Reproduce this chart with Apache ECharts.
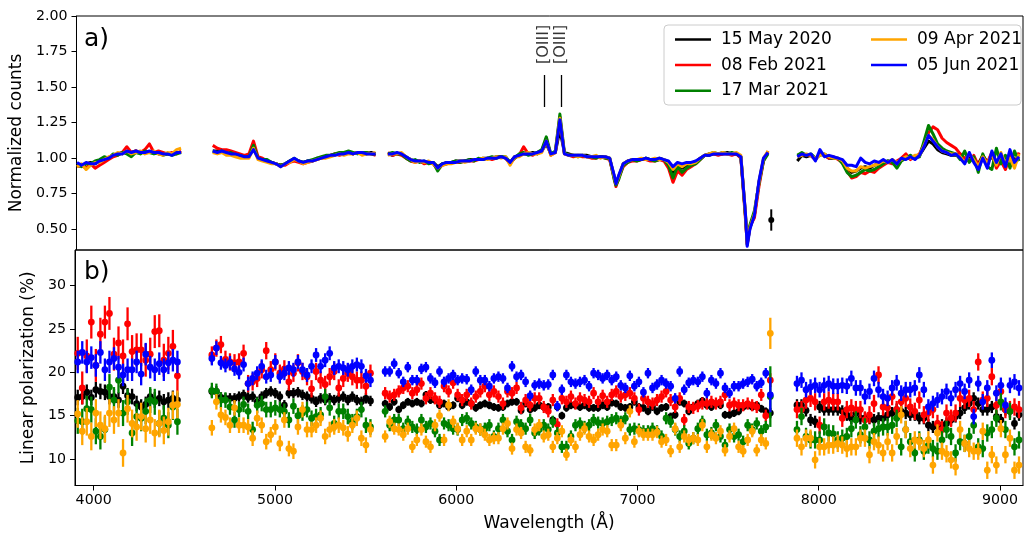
<!DOCTYPE html>
<html><head><meta charset="utf-8">
<script src="https://cdn.jsdelivr.net/npm/echarts@6/dist/echarts.min.js"></script>
<style>html,body{margin:0;padding:0;background:#fff}#c{width:1025px;height:537px}</style>
</head><body><div id="c"></div>
<script>
// ---------- names / colours ----------
const seriesNames = ['15 May 2020','08 Feb 2021','17 Mar 2021','09 Apr 2021','05 Jun 2021'];
const seriesColors = ['#000000','#ff0000','#008000','#ffa500','#0000ff'];

// ---------- tick labels ----------
const xTicks = [4000,5000,6000,7000,8000,9000];
const yTicksTop = [0.5,0.75,1.0,1.25,1.5,1.75,2.0];
const yTicksBot = [10,15,20,25,30];

// ---------- panel a) wavelengths (Å) ----------
function steps(start, step, n){const a=[];for(let i=0;i<n;i++)a.push(start+i*step);return a;}
const specWl1 = steps(3900,25,24);
const specWl2 = steps(4650,25,37);
const specWl3 = [5618,5643,5668,5693,5718,5743,5768,5793,5818,5843,
 5868,5893,5918,5943,5968,5993,6018,6043,6068,6093,
 6118,6143,6168,6193,6218,6243,6268,6293,6318,6343,
 6368,6393,6418,6443,6468,6493,6518,6543,6568,6593,
 6618,6643,6668,6693,6718,6743,6768,6793,6818,6843,
 6868,6878,6893,6918,6943,6968,6993,7018,7043,7068,
 7093,7118,7143,7168,7193,7218,7243,7268,7293,7318,
 7343,7368,7393,7418,7443,7468,7493,7518,7543,7568,
 7593,7603,7618,7643,7668,7693,7718];
const specWl4 = steps(7880,25,50);

// ---------- panel a) normalized counts ----------
const specBlack = [
 [0.96,0.95,0.96,0.97,0.96,0.98,1.00,1.00,1.02,1.03,1.04,1.04,1.04,1.05,1.04,1.04,1.04,1.04,1.03,1.03,1.03,1.03,1.04,1.04],
 [1.05,1.05,1.04,1.04,1.03,1.03,1.02,1.01,1.02,1.08,1.00,0.99,0.98,0.97,0.96,0.95,0.96,0.98,0.99,0.98,0.97,0.98,0.98,1.00,1.00,1.01,1.02,1.03,1.03,1.04,1.04,1.03,1.04,1.03,1.03,1.04,1.03],
 [1.03,1.02,1.03,1.03,1.01,0.99,0.98,0.98,0.97,0.97,
  0.97,0.94,0.96,0.97,0.97,0.98,0.98,0.98,0.99,0.99,
  0.99,1.00,1.00,1.00,1.01,1.01,1.00,0.97,1.01,1.02,
  1.03,1.03,1.04,1.03,1.05,1.10,1.03,1.04,1.20,1.04,
  1.03,1.02,1.02,1.02,1.02,1.01,1.01,1.01,1.01,1.00,
  0.87,0.82,0.87,0.96,0.98,0.99,0.99,0.99,1.00,0.99,
  0.99,1.00,0.99,0.97,0.90,0.95,0.93,0.95,0.96,0.97,
  1.00,1.02,1.02,1.03,1.03,1.03,1.04,1.03,1.03,1.01,
  0.61,0.39,0.51,0.60,0.83,0.99,1.04],
 [0.98,1.02,1.01,1.02,0.99,1.03,1.02,1.00,1.00,1.00,0.97,0.93,0.90,0.91,0.93,0.94,0.93,0.95,0.96,0.97,0.98,0.97,0.97,0.99,1.00,1.00,1.01,1.02,1.07,1.12,1.10,1.06,1.04,1.03,1.02,1.02,1.03,0.98,1.01,0.99,0.96,1.02,0.97,1.01,0.98,1.00,0.95,1.03,0.99,1.00]
];
const specRed = [
 [0.94,0.95,0.93,0.96,0.93,0.95,0.97,0.99,1.01,1.02,1.04,1.08,1.04,1.05,1.04,1.06,1.10,1.04,1.05,1.04,1.03,1.04,1.03,1.05],
 [1.09,1.07,1.06,1.06,1.05,1.04,1.03,1.02,1.03,1.12,1.01,1.00,0.98,0.97,0.96,0.95,0.95,0.97,0.98,0.97,0.96,0.97,0.98,0.99,1.00,1.01,1.02,1.03,1.02,1.03,1.04,1.03,1.04,1.03,1.04,1.03,1.02],
 [1.04,1.02,1.03,1.02,1.00,0.98,0.97,0.98,0.96,0.97,
  0.96,0.92,0.95,0.96,0.97,0.97,0.97,0.98,0.98,0.98,
  0.99,0.99,1.00,0.99,1.00,1.01,1.00,0.96,1.00,1.02,
  1.08,1.03,1.02,1.04,1.05,1.14,1.02,1.04,1.29,1.03,
  1.02,1.01,1.02,1.01,1.01,1.00,1.00,1.01,1.00,0.99,
  0.86,0.80,0.86,0.94,0.97,0.98,0.98,0.99,0.99,0.98,
  0.98,0.99,0.98,0.93,0.83,0.91,0.88,0.92,0.94,0.96,
  0.99,1.02,1.03,1.03,1.02,1.03,1.03,1.02,1.03,1.00,
  0.58,0.40,0.52,0.58,0.80,0.98,1.05],
 [1.02,1.03,1.02,1.02,0.99,1.03,1.02,1.00,1.01,0.99,0.97,0.91,0.86,0.87,0.90,0.89,0.91,0.90,0.93,0.95,0.97,0.96,0.98,1.00,1.03,0.99,1.01,1.03,1.10,1.18,1.22,1.20,1.14,1.11,1.09,1.07,1.03,1.00,0.98,1.02,0.95,1.01,0.97,1.04,0.93,0.98,0.92,1.02,0.95,1.04]
];
const specGreen = [
 [0.95,0.94,0.96,0.96,0.98,0.99,1.01,1.00,1.03,1.02,1.04,1.03,1.01,1.04,1.03,1.05,1.04,1.03,1.04,1.02,1.03,1.02,1.03,1.04],
 [1.05,1.04,1.05,1.03,1.04,1.02,1.02,1.01,1.01,1.09,1.00,0.99,0.99,0.97,0.96,0.95,0.96,0.98,1.00,0.98,0.97,0.98,0.99,1.00,1.01,1.02,1.02,1.03,1.04,1.04,1.05,1.04,1.03,1.04,1.04,1.03,1.03],
 [1.03,1.04,1.03,1.03,1.00,0.98,0.99,0.97,0.98,0.96,
  0.97,0.91,0.96,0.96,0.97,0.98,0.97,0.98,0.99,0.98,
  1.00,0.99,1.00,1.01,1.00,1.01,1.01,0.97,1.00,1.03,
  1.04,1.02,1.03,1.04,1.06,1.15,1.03,1.05,1.31,1.04,
  1.02,1.02,1.01,1.02,1.01,1.01,1.00,1.01,1.00,1.00,
  0.85,0.81,0.85,0.95,0.97,0.99,0.98,0.99,1.00,0.99,
  0.98,0.99,0.99,0.95,0.86,0.94,0.90,0.93,0.95,0.96,
  0.99,1.02,1.03,1.04,1.03,1.04,1.03,1.04,1.03,1.01,
  0.60,0.42,0.53,0.63,0.82,0.98,1.03],
 [1.02,1.04,1.02,1.03,1.00,1.02,1.03,1.01,1.00,1.00,0.96,0.90,0.87,0.88,0.90,0.92,0.91,0.92,0.94,0.96,0.98,0.97,0.93,0.98,1.00,1.02,1.00,1.01,1.12,1.23,1.17,1.10,1.07,1.05,1.04,1.03,0.99,1.05,0.97,1.01,0.90,1.03,0.94,0.92,1.07,0.96,1.02,0.93,1.05,0.98]
];
const specOrange = [
 [0.94,0.96,0.92,0.95,0.97,0.97,0.99,1.01,1.02,1.04,1.03,1.05,1.03,1.04,1.05,1.03,1.04,1.05,1.03,1.02,1.04,1.03,1.06,1.07],
 [1.04,1.03,1.04,1.02,1.02,1.01,1.00,1.00,1.00,1.07,0.99,0.98,0.97,0.96,0.96,0.94,0.96,0.97,0.99,0.98,0.96,0.97,0.98,0.99,1.00,1.00,1.01,1.02,1.03,1.02,1.03,1.03,1.04,1.02,1.03,1.03,1.04],
 [1.02,1.03,1.03,1.04,1.01,0.99,0.97,0.98,0.97,0.98,
  0.96,0.93,0.95,0.96,0.96,0.97,0.98,0.97,0.98,0.99,
  0.99,1.00,0.99,1.00,1.01,1.00,1.01,0.95,1.01,1.01,
  1.03,1.04,1.03,1.03,1.04,1.12,1.02,1.04,1.28,1.03,
  1.02,1.02,1.01,1.02,1.01,1.01,1.02,1.00,1.01,1.00,
  0.87,0.82,0.87,0.96,0.98,0.99,0.99,1.00,0.99,0.99,
  1.00,0.99,0.99,0.97,0.92,0.96,0.94,0.96,0.96,0.97,
  1.00,1.02,1.03,1.04,1.03,1.04,1.03,1.03,1.04,1.02,
  0.62,0.40,0.51,0.61,0.83,1.00,1.05],
 [1.01,1.02,1.03,1.02,1.00,1.02,1.03,1.01,1.00,1.00,0.98,0.93,0.91,0.91,0.94,0.93,0.94,0.95,0.96,0.98,0.97,0.99,0.97,0.99,1.01,1.00,1.02,1.02,1.09,1.16,1.13,1.08,1.05,1.04,1.03,1.03,1.01,0.97,1.03,0.99,0.94,1.01,0.96,1.03,0.95,1.04,0.96,1.00,0.93,1.03]
];
const specBlue = [
 [0.97,0.95,0.97,0.96,0.96,0.98,0.99,1.00,1.02,1.03,1.03,1.05,1.04,1.05,1.04,1.04,1.05,1.04,1.04,1.03,1.03,1.02,1.04,1.04],
 [1.05,1.04,1.05,1.04,1.03,1.03,1.02,1.01,1.01,1.06,1.00,0.99,0.98,0.97,0.96,0.94,0.96,0.98,1.00,0.98,0.97,0.98,0.98,0.99,1.00,1.01,1.02,1.02,1.03,1.03,1.04,1.03,1.04,1.04,1.03,1.03,1.03],
 [1.03,1.03,1.04,1.03,1.01,0.99,0.98,0.98,0.98,0.97,
  0.97,0.93,0.96,0.97,0.97,0.97,0.98,0.98,0.98,0.99,
  0.99,0.99,1.00,1.00,1.00,1.01,1.00,0.97,1.01,1.02,
  1.03,1.03,1.03,1.04,1.05,1.12,1.03,1.04,1.27,1.03,
  1.02,1.02,1.02,1.02,1.01,1.01,1.01,1.01,1.01,1.00,
  0.88,0.82,0.88,0.96,0.98,0.99,0.99,0.99,1.00,0.99,
  0.99,1.00,0.99,0.98,0.94,0.97,0.96,0.97,0.97,0.98,
  1.00,1.02,1.02,1.03,1.03,1.03,1.03,1.03,1.03,1.01,
  0.62,0.38,0.50,0.60,0.84,1.00,1.04],
 [1.01,1.03,1.02,1.03,0.98,1.06,1.01,1.02,1.01,1.00,0.99,0.95,0.95,0.94,1.00,0.97,0.96,0.98,0.97,0.99,0.97,0.99,0.96,1.00,0.99,1.01,0.99,1.02,1.08,1.16,1.12,1.08,1.05,1.04,1.02,1.03,1.00,0.96,1.04,0.97,0.92,1.00,0.93,1.05,0.97,1.03,0.94,1.06,0.97,1.01]
];
// single measured point with error bar in panel a)
const specPointWl = [7736];
const specPointVal = [0.565];
const specPointErr = [0.075];

// annotation markers in panel a)
const annWl = [6481, 6574];
const annText = ['[OIII]', '[OIII]'];
const annTextY = 1.80;
const annLineLo = 1.36, annLineHi = 1.585;

// ---------- panel b) wavelengths (start, step, count per segment) ----------
const polWl = [steps(3912,25,23), steps(4652,25,36), steps(5608,25,86), steps(7880,25,50)];

// ---------- panel b) linear polarization (%) ----------
const polBlack = [
 [17.1,17.2,17.7,17.1,18.0,17.8,17.7,17.2,17.2,16.8,18.4,17.3,17.2,16.4,16.0,16.3,17.2,16.8,17.0,16.6,16.8,17.0,16.8],
 [17.8,17.8,17.1,17.0,17.0,17.0,17.2,17.4,17.1,17.2,16.6,17.2,17.6,17.8,17.6,17.2,16.2,17.6,17.6,17.7,17.4,17.2,17.0,16.6,17.0,16.8,17.0,16.8,17.0,17.2,16.8,17.2,16.8,16.6,17.0,16.7],
 [16.4,16.0,16.6,15.7,16.2,16.6,16.4,16.6,16.4,17.4,16.8,16.8,16.2,16.4,16.0,16.2,17.0,16.2,16.6,16.4,15.9,16.2,16.4,16.2,16.0,15.9,16.0,16.4,16.6,16.6,15.6,16.4,15.7,15.9,16.2,16.0,16.0,14.5,16.0,15.0,15.9,16.2,16.2,16.0,16.2,15.9,
  15.9,15.9,16.2,16.0,16.5,16.4,16.0,15.9,16.0,16.6,16.0,15.9,15.5,16.0,15.5,15.9,16.0,14.9,15.1,16.6,16.4,15.5,16.0,16.4,16.7,16.2,16.0,16.4,16.2,15.1,15.1,15.3,15.5,16.0,16.2,16.0,16.2,15.8,15.5,15.3],
 [16.2,16.2,15.6,14.5,14.3,16.0,15.7,15.7,15.7,15.7,15.5,15.1,14.7,15.3,14.7,14.7,14.7,14.5,14.7,14.7,15.1,15.3,15.7,15.5,15.3,15.1,15.1,14.7,14.7,13.9,13.7,13.8,13.9,14.1,14.5,14.9,15.3,15.9,16.4,17.0,16.4,15.7,15.7,16.0,14.9,14.5,15.7,15.5,14.1,15.1]
];
const polRed = [
 [22.2,18.2,21.9,25.8,20.8,24.4,25.8,26.8,22.1,23.4,21.9,25.6,22.4,22.6,22.6,21.4,22.1,24.7,24.8,21.4,22.2,23.0,19.6],
 [22.0,22.8,23.2,21.5,21.2,21.1,21.2,22.2,18.7,18.9,19.3,20.3,22.5,20.3,21.2,19.9,20.4,18.9,19.9,21.1,20.1,19.5,18.1,20.1,19.1,18.6,19.5,20.1,18.2,19.3,19.9,19.5,19.1,19.1,18.4,19.9],
 [17.6,17.2,17.4,17.8,18.2,18.4,17.6,18.0,18.7,17.0,17.6,17.0,16.6,18.4,17.8,18.8,17.4,16.8,17.4,16.4,17.2,17.8,18.4,17.4,17.8,17.2,16.4,17.8,17.6,18.2,15.9,16.8,16.2,17.0,17.0,16.0,15.5,16.8,14.0,17.0,16.6,17.2,16.4,17.0,16.8,16.6,
  17.6,16.6,17.3,16.6,17.4,17.8,17.2,17.4,17.6,17.0,15.7,17.0,16.6,16.4,16.8,17.2,17.8,16.8,16.0,17.0,14.5,16.0,15.9,16.1,16.4,16.4,16.6,16.4,16.6,17.4,16.2,16.4,16.2,16.2,16.4,16.2,16.0,17.4,15.0,19.1],
 [15.7,15.7,16.8,17.0,16.6,13.9,16.6,16.8,16.6,16.6,14.7,15.7,15.9,15.7,15.7,14.5,15.1,16.4,19.7,16.0,15.9,17.2,15.7,16.6,17.0,16.0,15.5,16.8,15.1,15.3,15.7,14.1,13.4,15.3,14.7,15.3,17.0,16.8,17.0,15.7,21.2,16.8,17.0,19.5,16.2,17.8,15.7,15.7,16.0,15.7]
];
const polGreen = [
 [14.4,14.3,15.8,15.7,13.2,12.6,13.4,18.3,16.8,19.1,15.3,16.6,13.0,14.9,14.7,15.5,16.8,16.6,14.1,14.7,13.9,16.0,14.3],
 [17.9,17.8,16.8,16.8,16.0,14.5,15.7,16.3,15.5,13.4,16.2,16.4,15.7,15.7,15.9,15.7,15.5,14.5,16.1,15.0,15.3,15.7,14.7,14.9,15.1,17.2,15.9,14.1,15.5,15.5,14.9,14.3,14.9,15.7,13.9,13.7],
 [15.5,13.9,14.5,14.5,13.5,14.3,13.7,13.4,14.5,13.7,14.1,13.2,12.2,14.1,13.9,13.5,13.4,14.5,14.7,14.1,13.7,13.4,13.5,13.9,12.6,13.5,14.5,13.2,12.2,14.3,13.9,13.5,14.5,13.0,13.4,13.9,13.4,14.3,13.0,11.4,11.4,12.6,13.9,14.1,13.7,13.9,
  14.5,14.2,14.1,14.3,14.5,14.7,14.3,14.7,13.4,13.5,13.4,13.2,13.2,13.5,13.2,12.6,14.7,14.3,13.4,12.6,13.2,11.8,12.4,13.5,14.3,12.8,13.0,13.9,12.6,11.6,13.4,12.6,12.8,12.0,13.9,13.4,14.1,13.2,13.7,17.2],
 [13.4,14.9,12.6,12.2,12.2,12.2,13.7,13.0,12.9,12.2,12.4,12.6,13.5,14.5,12.8,13.7,12.2,13.2,13.5,13.7,13.7,13.9,14.7,11.4,13.4,12.0,10.7,12.2,10.9,11.6,11.2,10.9,12.2,13.4,12.6,10.7,12.0,11.8,12.6,13.9,11.4,11.2,13.0,13.4,14.7,16.6,13.4,15.5,11.4,12.2]
];
const polOrange = [
 [15.2,13.2,14.3,12.6,15.3,13.9,13.5,15.3,14.5,15.3,10.7,15.8,14.1,13.7,14.9,13.5,14.5,13.0,14.1,13.3,14.3,16.2,16.3],
 [13.6,16.6,15.1,14.8,13.9,15.9,13.9,13.9,13.7,12.4,14.7,13.9,12.0,12.8,13.7,11.8,14.5,11.2,10.9,13.7,15.7,13.4,13.4,13.9,14.7,12.6,13.4,13.7,13.9,13.6,12.9,13.9,14.7,12.4,11.6,13.4],
 [12.6,14.3,13.5,13.4,12.8,13.5,11.4,12.2,13.4,12.0,11.4,13.9,15.0,12.2,16.2,14.3,13.5,12.2,13.2,12.2,13.5,13.4,12.8,12.2,12.4,12.4,13.5,14.1,11.2,13.4,13.0,11.4,11.0,13.4,13.9,12.6,12.8,11.4,12.4,13.2,10.5,12.2,11.4,12.8,13.5,12.6,
  12.2,12.8,13.4,13.2,11.6,11.6,13.9,12.4,15.5,12.0,13.2,12.8,12.8,12.8,13.1,12.0,12.2,10.9,13.5,11.4,12.6,12.2,12.4,12.2,13.9,11.4,12.8,12.4,13.2,11.0,12.6,13.5,11.4,10.9,12.2,13.2,11.0,12.2,11.8,24.5],
 [12.4,11.4,12.4,12.4,9.9,11.4,11.4,11.6,11.6,11.8,11.6,11.2,11.4,11.4,12.4,12.4,10.5,12.0,11.6,10.7,12.0,10.7,12.6,15.1,13.4,11.2,12.2,12.0,11.2,12.2,9.3,13.0,10.9,10.6,9.9,9.1,13.4,11.8,11.2,10.9,10.9,13.2,8.7,10.5,9.3,13.5,10.5,12.4,8.7,9.3]
];
const polBlue = [
 [21.2,22.3,21.2,21.7,20.8,22.3,20.3,21.2,21.6,20.6,19.7,20.3,20.3,21.2,19.8,22.1,20.6,20.3,21.0,20.3,21.1,21.4,21.2],
 [21.6,22.8,21.1,20.8,21.1,20.4,20.0,20.9,18.7,19.3,19.9,20.7,19.5,19.7,21.2,19.5,19.9,20.5,20.3,21.2,20.3,19.7,20.7,22.0,20.7,21.4,22.2,20.5,20.7,20.5,20.3,20.7,20.9,20.7,19.6,19.1],
 [20.1,20.1,21.0,19.9,18.9,20.6,19.1,19.1,20.4,20.6,19.3,18.8,20.1,18.9,19.3,19.7,19.1,19.3,19.2,18.0,20.1,19.1,19.1,18.4,19.3,19.5,19.3,18.2,20.7,19.5,19.7,18.9,17.3,18.5,18.7,18.5,18.6,19.7,16.1,18.0,19.7,18.9,18.7,18.9,19.1,18.4,
  19.9,19.7,19.3,19.7,19.1,19.5,18.5,18.2,19.6,18.4,18.9,17.7,19.9,18.2,18.6,19.1,18.7,18.4,17.0,20.1,18.0,18.8,19.1,18.9,19.5,17.6,19.1,18.7,19.9,18.2,17.6,18.4,18.4,18.7,18.9,19.2,18.4,18.8,19.9,17.4],
 [18.7,19.1,18.0,18.3,18.5,18.0,18.5,18.7,18.4,18.4,18.5,18.4,19.3,18.2,18.2,17.2,17.8,19.3,18.0,17.2,17.0,18.2,18.8,17.6,18.0,18.0,18.2,19.7,18.0,16.0,16.4,16.8,17.2,17.8,17.0,18.0,18.7,17.8,19.1,14.9,18.7,16.6,18.2,21.4,17.6,18.5,16.2,18.5,18.9,18.2]
];
// error bar half-lengths per segment
const polErrBlack  = [0.9, 0.6, 0.45, 0.7];
const polErrRed    = [1.9, 1.0, 0.7, 1.0];
const polErrGreen  = [1.5, 0.9, 0.7, 1.0];
const polErrOrange = [1.6, 0.9, 0.7, 1.0];
const polErrBlue   = [1.3, 0.8, 0.6, 0.9];
// the last point of segment 3 (edge) has larger errors
const polEdgeErr = [0.6, 0.8, 3.5, 1.8, 2.0];

// ---------- build ----------
const specAll = [specBlack, specRed, specGreen, specOrange, specBlue];
const polAll = [polBlack, polRed, polGreen, polOrange, polBlue];
const errAll = [polErrBlack, polErrRed, polErrGreen, polErrOrange, polErrBlue];
const specWl = [specWl1, specWl2, specWl3, specWl4];

const FONT = 'DejaVu Sans';
const series = [];
specAll.forEach((segs, i) => {
  const data = [];
  segs.forEach((vals, s) => {
    vals.forEach((v, j) => data.push([specWl[s][j], v]));
    if (s < segs.length - 1) data.push([specWl[s][vals.length - 1] + 10, '-']);
  });
  series.push({
    type: 'line', name: seriesNames[i], xAxisIndex: 0, yAxisIndex: 0, data,
    symbol: 'none', showSymbol: false, connectNulls: false, color: seriesColors[i],
    lineStyle: { width: 3, color: seriesColors[i], join: 'round' }, z: 2
  });
});

function errRender(color, r, lw) {
  return function (params, api) {
    const x = api.value(0), y = api.value(1), e = api.value(2);
    const c = api.coord([x, y]), t = api.coord([x, y + e]), b = api.coord([x, y - e]);
    return { type: 'group', children: [
      { type: 'line', shape: { x1: c[0], y1: t[1], x2: c[0], y2: b[1] }, style: { stroke: color, lineWidth: lw } },
      { type: 'circle', shape: { cx: c[0], cy: c[1], r: r }, style: { fill: color } }
    ]};
  };
}

// point in panel a)
series.push({
  type: 'custom', name: seriesNames[0], xAxisIndex: 0, yAxisIndex: 0,
  data: specPointWl.map((w, j) => [w, specPointVal[j], specPointErr[j]]),
  encode: { x: 0, y: 1 }, renderItem: errRender('#000', 3, 2), z: 3
});

// panel b)
polAll.forEach((segs, i) => {
  const data = [];
  segs.forEach((vals, s) => {
    vals.forEach((v, j) => {
      let e = errAll[i][s];
      if (s === 2 && j === vals.length - 1) e = polEdgeErr[i];
      data.push([polWl[s][j], v, e]);
    });
  });
  series.push({
    type: 'custom', name: seriesNames[i], xAxisIndex: 1, yAxisIndex: 1, data,
    encode: { x: 0, y: 1 }, renderItem: errRender(seriesColors[i], 3.4, 2.3), color: seriesColors[i], z: 2
  });
});

// annotations
series.push({
  type: 'scatter', xAxisIndex: 0, yAxisIndex: 0, silent: true, symbolSize: 0,
  itemStyle: { color: 'rgba(0,0,0,0)' },
  data: annWl.map((w, j) => ({ value: [w, annTextY], name: annText[j] })),
  label: { show: true, position: 'inside', rotate: 90, formatter: p => p.name,
           color: '#000', fontSize: 16, fontFamily: FONT },
  markLine: { silent: true, symbol: ['none', 'none'], label: { show: false },
    lineStyle: { color: '#000', width: 1.3, type: 'solid' },
    data: annWl.map(w => [{ coord: [w, annLineLo] }, { coord: [w, annLineHi] }]) },
  z: 3
});

const xMin = 3897, xMax = 9127;
const legendCommon = {
  orient: 'vertical', top: 26, icon: 'rect', itemWidth: 36, itemHeight: 2.5, itemGap: 8.6,
  textStyle: { fontSize: 17, color: '#000', lineHeight: 17, fontFamily: FONT, padding: [0, 0, 0, 5] },
  selectedMode: false, z: 20
};
const option = {
  animation: false,
  backgroundColor: '#fff',
  textStyle: { fontFamily: FONT },
  grid: [
    { left: 75, right: 2, top: 16, height: 234, show: true, borderColor: '#000', borderWidth: 1, containLabel: false },
    { left: 75, right: 2, top: 250, bottom: 51.5, show: true, borderColor: '#000', borderWidth: 1, containLabel: false }
  ],
  xAxis: [
    { type: 'value', gridIndex: 0, min: xMin, max: xMax, axisLabel: { show: false }, axisTick: { show: false },
      splitLine: { show: false }, axisLine: { show: false } },
    { type: 'value', gridIndex: 1, min: xMin, max: xMax, splitLine: { show: false },
      axisLine: { show: true, onZero: false, lineStyle: { color: '#000', width: 1 } },
      axisTick: { show: true, inside: false, length: 5, lineStyle: { color: '#000' }, customValues: xTicks },
      axisLabel: { customValues: xTicks, color: '#000', fontSize: 14.2, margin: 8, fontFamily: FONT,
                   formatter: v => String(v) },
      name: 'Wavelength (Å)', nameLocation: 'middle', nameGap: 30,
      nameTextStyle: { fontSize: 17, color: '#000', fontFamily: FONT } }
  ],
  yAxis: [
    { type: 'value', gridIndex: 0, min: 0.354, max: 2.0, splitLine: { show: false },
      axisLine: { show: true, onZero: false, lineStyle: { color: '#000', width: 1 } },
      axisTick: { show: true, inside: false, length: 5, lineStyle: { color: '#000' }, customValues: yTicksTop },
      axisLabel: { customValues: yTicksTop, color: '#000', fontSize: 14.2, margin: 9, fontFamily: FONT,
                   formatter: v => Number(v).toFixed(2) },
      name: 'Normalized counts', nameLocation: 'middle', nameGap: 48,
      nameTextStyle: { fontSize: 17, color: '#000', fontFamily: FONT } },
    { type: 'value', gridIndex: 1, min: 6.94, max: 34.12, splitLine: { show: false },
      axisLine: { show: true, onZero: false, lineStyle: { color: '#000', width: 1 } },
      axisTick: { show: true, inside: false, length: 5, lineStyle: { color: '#000' }, customValues: yTicksBot },
      axisLabel: { customValues: yTicksBot, color: '#000', fontSize: 14.2, margin: 9, fontFamily: FONT },
      name: 'Linear polarization (%)', nameLocation: 'middle', nameGap: 30,
      nameTextStyle: { fontSize: 17, color: '#000', fontFamily: FONT } }
  ],
  legend: [
    Object.assign({ data: seriesNames.slice(0, 3), left: 670 }, legendCommon),
    Object.assign({ data: seriesNames.slice(3), left: 866 }, legendCommon)
  ],
  graphic: [
    { type: 'rect', z: 10, shape: { x: 664, y: 25, width: 357, height: 80, r: 4 },
      style: { fill: 'rgba(255,255,255,0.85)', stroke: '#cccccc', lineWidth: 1 } },
    { type: 'text', z: 10, style: { text: 'a)', x: 84, y: 39, fontSize: 25, fontFamily: FONT, fill: '#000', verticalAlign: 'middle' } },
    { type: 'text', z: 10, style: { text: 'b)', x: 84, y: 272, fontSize: 25, fontFamily: FONT, fill: '#000', verticalAlign: 'middle' } }
  ],
  series
};
const chart = echarts.init(document.getElementById('c'), null, { renderer: 'canvas' });
chart.setOption(option);
</script>
</body></html>
